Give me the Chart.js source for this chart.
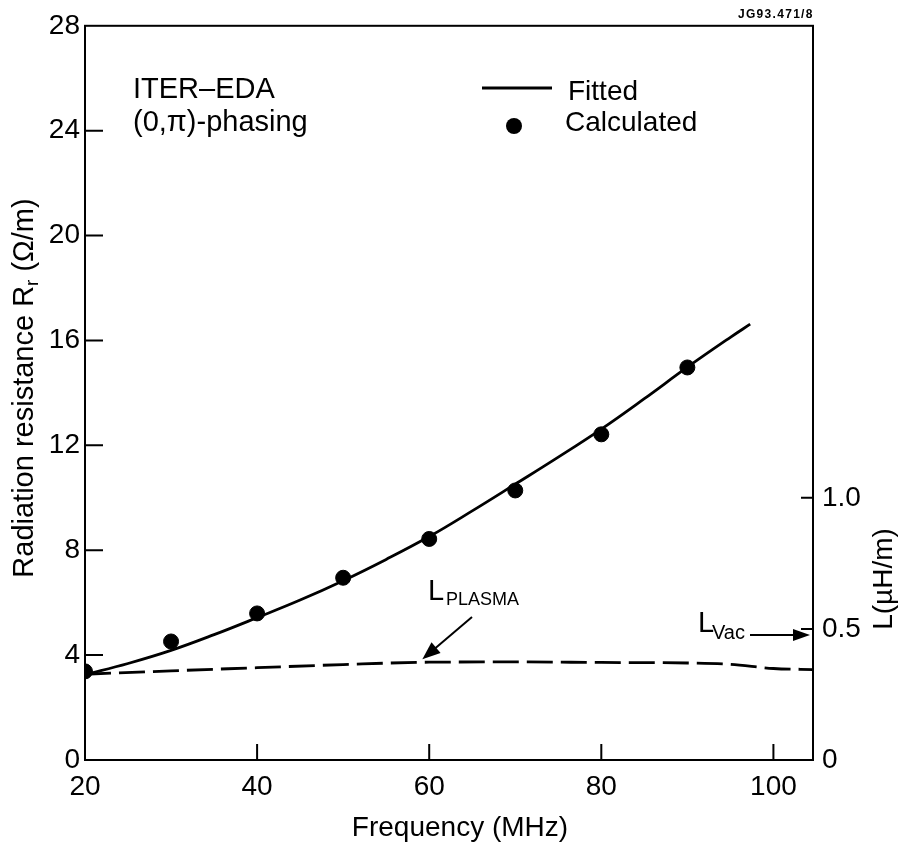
<!DOCTYPE html>
<html>
<head>
<meta charset="utf-8">
<script src="https://cdn.jsdelivr.net/npm/chart.js@4.4.1/dist/chart.umd.min.js"></script>
<style>
  html, body { margin: 0; padding: 0; background: #fff; }
  canvas { display: block; }
</style>
</head>
<body>
<canvas id="grafico" width="901" height="849"></canvas>
<script>
/* global Chart */
// valores
const freqCalc = [20, 30, 40, 50, 60, 70, 80, 90];
const rCalc = [3.38, 4.52, 5.59, 6.95, 8.43, 10.28, 12.42, 14.97];

const freqFit = [20, 25, 30, 35, 40, 45, 50, 55, 60, 65, 70, 75, 80, 85, 90, 95, 97.3];
const rFit = [3.25, 3.68, 4.18, 4.78, 5.43, 6.1, 6.84, 7.65, 8.52, 9.5, 10.52, 11.55, 12.62, 13.78, 14.98, 16.12, 16.62];

const freqL = [20, 30, 40, 50, 60, 70, 80, 90, 95, 100, 104.6];
const lPlasma = [0.327, 0.340, 0.352, 0.364, 0.373, 0.374, 0.372, 0.370, 0.365, 0.349, 0.345];

const xTicks = [20, 40, 60, 80, 100];
const yTicks = [0, 4, 8, 12, 16, 20, 24, 28];
const y2Ticks = [0, 0.5, 1.0];
const y2Labels = ['0', '0.5', '1.0'];

const FONTE = '"Liberation Sans", Arial, Helvetica, sans-serif';
Chart.defaults.font.family = FONTE;
Chart.defaults.color = '#000';

const pares = (xs, ys) => xs.map((x, i) => ({ x, y: ys[i] }));

function seta(ctx, x1, y1, x2, y2, comp, larg) {
  const ang = Math.atan2(y2 - y1, x2 - x1);
  ctx.beginPath();
  ctx.moveTo(x1, y1);
  ctx.lineTo(x2 - comp * Math.cos(ang) * 0.6, y2 - comp * Math.sin(ang) * 0.6);
  ctx.stroke();
  ctx.beginPath();
  ctx.moveTo(x2, y2);
  ctx.lineTo(x2 - comp * Math.cos(ang) + larg * Math.sin(ang), y2 - comp * Math.sin(ang) - larg * Math.cos(ang));
  ctx.lineTo(x2 - comp * Math.cos(ang) - larg * Math.sin(ang), y2 - comp * Math.sin(ang) + larg * Math.cos(ang));
  ctx.closePath();
  ctx.fill();
}

const moldura = {
  id: 'moldura',
  afterDraw(chart) {
    const { ctx, chartArea: a, scales } = chart;
    ctx.save();
    ctx.strokeStyle = '#000';
    ctx.fillStyle = '#000';
    ctx.lineWidth = 2;
    ctx.strokeRect(a.left, a.top, a.right - a.left, a.bottom - a.top);

    // marcas para dentro
    ctx.beginPath();
    yTicks.slice(1, -1).forEach(v => {
      const py = scales.y.getPixelForValue(v);
      ctx.moveTo(a.left, py); ctx.lineTo(a.left + 18, py);
    });
    xTicks.slice(1).forEach(v => {
      const px = scales.x.getPixelForValue(v);
      ctx.moveTo(px, a.bottom); ctx.lineTo(px, a.bottom - 16);
    });
    y2Ticks.slice(1).forEach(v => {
      const py = scales.y2.getPixelForValue(v);
      ctx.moveTo(a.right - 12, py); ctx.lineTo(a.right, py);
    });
    ctx.stroke();

    // titulo eixo x
    ctx.textBaseline = 'alphabetic';
    ctx.textAlign = 'center';
    ctx.font = '28px ' + FONTE;
    ctx.fillText('Frequency (MHz)', 460, 836);

    // titulo eixo y esquerdo (com subscrito)
    ctx.save();
    ctx.translate(33, 388);
    ctx.rotate(-Math.PI / 2);
    ctx.textAlign = 'left';
    const p1 = 'Radiation resistance R', p2 = 'r', p3 = ' (Ω/m)';
    ctx.font = '29px ' + FONTE;
    const w1 = ctx.measureText(p1).width, w3 = ctx.measureText(p3).width;
    ctx.font = '19px ' + FONTE;
    const w2 = ctx.measureText(p2).width;
    const x0 = -(w1 + w2 + w3) / 2;
    ctx.font = '29px ' + FONTE;
    ctx.fillText(p1, x0, 0);
    ctx.font = '19px ' + FONTE;
    ctx.fillText(p2, x0 + w1, 5);
    ctx.font = '29px ' + FONTE;
    ctx.fillText(p3, x0 + w1 + w2, 0);
    ctx.restore();

    // titulo eixo y direito
    ctx.save();
    ctx.translate(892, 579);
    ctx.rotate(-Math.PI / 2);
    ctx.textAlign = 'center';
    ctx.font = '28px ' + FONTE;
    ctx.fillText('L(µH/m)', 0, 0);
    ctx.restore();

    // textos do canto
    ctx.textAlign = 'left';
    ctx.font = '29px ' + FONTE;
    ctx.fillText('ITER–EDA', 133, 98);
    ctx.fillText('(0,π)-phasing', 133, 131);

    // legenda
    ctx.lineWidth = 2.8;
    ctx.beginPath();
    ctx.moveTo(482, 88); ctx.lineTo(552, 88);
    ctx.stroke();
    ctx.beginPath();
    ctx.arc(514, 126, 8, 0, Math.PI * 2);
    ctx.fill();
    ctx.font = '28px ' + FONTE;
    ctx.fillText('Fitted', 568, 100);
    ctx.fillText('Calculated', 565, 131);

    // L plasma
    ctx.font = '29px ' + FONTE;
    ctx.fillText('L', 428, 600);
    ctx.font = '18px ' + FONTE;
    ctx.fillText('PLASMA', 446, 605);
    ctx.lineWidth = 2;
    const tx = scales.x.getPixelForValue(59.2);
    const ty = scales.y2.getPixelForValue(0.373) - 3;
    seta(ctx, 472, 617, tx, ty, 18, 7);

    // L vac
    ctx.font = '29px ' + FONTE;
    ctx.fillText('L', 698, 632);
    ctx.font = '20px ' + FONTE;
    ctx.fillText('Vac', 712, 639);
    const vy = scales.y2.getPixelForValue(0.5) + 6;
    seta(ctx, 750, vy, a.right - 3, vy, 17, 6);

    // referencia
    ctx.font = 'bold 12px ' + FONTE;
    if ('letterSpacing' in ctx) ctx.letterSpacing = '1.3px';
    ctx.fillText('JG93.471/8', 738, 18);
    ctx.restore();
  }
};

new Chart(document.getElementById('grafico'), {
  data: {
    datasets: [
      {
        type: 'line',
        label: 'Fitted',
        data: pares(freqFit, rFit),
        yAxisID: 'y',
        borderColor: '#000',
        borderWidth: 2.8,
        pointRadius: 0,
        tension: 0.4,
        fill: false,
      },
      {
        type: 'scatter',
        label: 'Calculated',
        data: pares(freqCalc, rCalc),
        yAxisID: 'y',
        backgroundColor: '#000',
        borderColor: '#000',
        pointRadius: 7.5,
      },
      {
        type: 'line',
        label: 'L plasma',
        data: pares(freqL, lPlasma),
        yAxisID: 'y2',
        borderColor: '#000',
        borderWidth: 2.8,
        borderDash: [26, 8],
        pointRadius: 0,
        cubicInterpolationMode: 'monotone',
        fill: false,
      }
    ]
  },
  options: {
    responsive: false,
    animation: false,
    devicePixelRatio: 1,
    layout: { padding: { top: 23, left: 0, right: 0, bottom: 0 } },
    plugins: { legend: { display: false }, tooltip: { enabled: false } },
    scales: {
      x: {
        type: 'linear', min: 20, max: 104.6,
        afterBuildTicks: s => { s.ticks = xTicks.map(v => ({ value: v })); },
        afterFit: s => { s.height = 89; },
        grid: { display: false, drawTicks: false },
        border: { display: false },
        ticks: { font: { size: 28 }, color: '#000', padding: 10, maxRotation: 0, callback: v => String(v) }
      },
      y: {
        type: 'linear', position: 'left', min: 0, max: 28,
        afterBuildTicks: s => { s.ticks = yTicks.map(v => ({ value: v })); },
        afterFit: s => { s.width = 85; },
        grid: { display: false, drawTicks: false },
        border: { display: false },
        ticks: { font: { size: 28 }, color: '#000', padding: 5, callback: v => String(v) }
      },
      y2: {
        type: 'linear', position: 'right', min: 0, max: 2.8,
        afterBuildTicks: s => { s.ticks = y2Ticks.map(v => ({ value: v })); },
        afterFit: s => { s.width = 88; },
        grid: { display: false, drawTicks: false },
        border: { display: false },
        ticks: { font: { size: 28 }, color: '#000', padding: 9, callback: (v, i) => y2Labels[i] }
      }
    }
  },
  plugins: [moldura]
});
</script>
</body>
</html>
